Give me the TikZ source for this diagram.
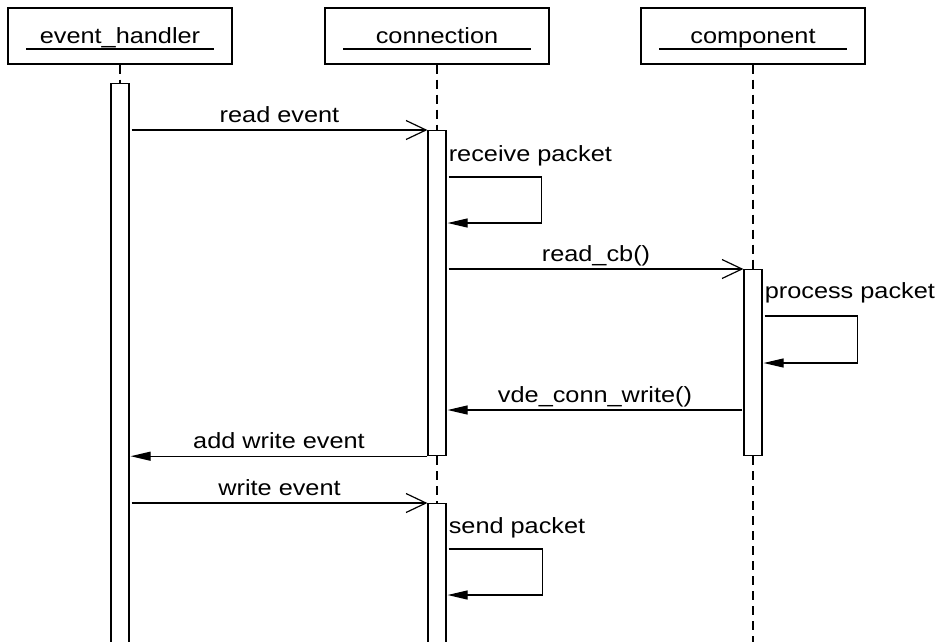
\documentclass[tikz,border=0pt]{standalone}
\usepackage{fontspec}
\setmainfont[FakeStretch=1.15]{Liberation Sans}
\usetikzlibrary{arrows.meta,calc}
\begin{document}
\begin{tikzpicture}[x=1pt,y=-1pt,
  every node/.style={font=\fontsize{22}{26}\selectfont},
  actor/.style={draw, line width=1.2pt, minimum width=224pt, minimum height=56pt,
    inner sep=0pt, text height=17pt, text depth=3pt},
  lifeline/.style={line width=1.2pt, dash pattern=on 9pt off 6pt},
  act/.style={draw, fill=white, line width=1.2pt, minimum width=18pt, inner sep=0pt},
  call/.style={line width=1.2pt, -{Straight Barb[length=20pt,width=19pt,line width=1.2pt]}},
  ret/.style={line width=1.2pt, -{Triangle[length=20pt,width=9pt]}},
  msg/.style={anchor=base, inner sep=0pt, yshift=8pt},
  note/.style={anchor=base west, inner sep=0pt}
]
\useasboundingbox (0,0) rectangle (944,641);

% participants
\node[actor] (eh)   at (120,36) {event\_handler};
\node[actor] (conn) at (437,36) {connection};
\node[actor] (comp) at (753,36) {component};
\foreach \p in {eh,conn,comp}
  \draw[line width=1.2pt] ($(\p.center)+(-94,13)$) -- ++(188,0);

% activation bars
\node[act, minimum height=562pt, anchor=north] (ehA)   at (120,83)  {};
\node[act, minimum height=325pt, anchor=north] (connA) at (437,130) {};
\node[act, minimum height=186pt, anchor=north] (compA) at (753,269) {};
\node[act, minimum height=142pt, anchor=north] (connB) at (437,503) {};
\coordinate (compEnd) at (753,645);

% lifelines
\draw[lifeline] (eh.south) -- (ehA.north);
\draw[lifeline] (conn.south) -- (connA.north);
\draw[lifeline] (connA.south) -- (connB.north);
\draw[lifeline] (comp.south) -- (compA.north);
\draw[lifeline] (compA.south) -- (compEnd);

% read event
\coordinate (m1) at ($(ehA.east |- connA.north west)+(2,0)$);
\draw[call] (m1) -- node[msg] {read event} (connA.north west);

% receive packet
\coordinate (l1s) at ($(connA.north east)+(2,47)$);
\coordinate (l1e) at ($(connA.north east)+(1,93)$);
\node[note] (t1) at ($(l1s)+(0,-16)$) {receive packet};
\draw[ret] (l1s) -- ++(93,0) |- (l1e);

% read_cb()
\coordinate (m2) at ($(connA.east |- compA.north west)+(2,0)$);
\draw[call] (m2) -- node[msg] {read\_cb()} (compA.north west);

% process packet
\coordinate (l2s) at ($(compA.north east)+(2,47)$);
\coordinate (l2e) at ($(compA.north east)+(1,94)$);
\node[note] (t2) at ($(l2s)+(0,-18)$) {process packet};
\draw[ret] (l2s) -- ++(93,0) |- (l2e);

% vde_conn_write()
\coordinate (m3s) at ($(compA.north west)+(-1,141)$);
\coordinate (m3e) at ($(connA.east |- m3s)+(1,0)$);
\draw[ret] (m3s) -- node[msg] {vde\_conn\_write()} (m3e);

% add write event
\coordinate (m4e) at ($(ehA.east |- connA.south west)+(1,0)$);
\draw[ret] (connA.south west) -- node[msg] {add write event} (m4e);

% write event
\coordinate (m5) at ($(ehA.east |- connB.north west)+(2,0)$);
\draw[call] (m5) -- node[msg] {write event} (connB.north west);

% send packet
\coordinate (l3s) at ($(connB.north east)+(2,46)$);
\coordinate (l3e) at ($(connB.north east)+(1,92)$);
\node[note] (t3) at ($(l3s)+(0,-16)$) {send packet};
\draw[ret] (l3s) -- ++(94,0) |- (l3e);
\end{tikzpicture}
\end{document}
